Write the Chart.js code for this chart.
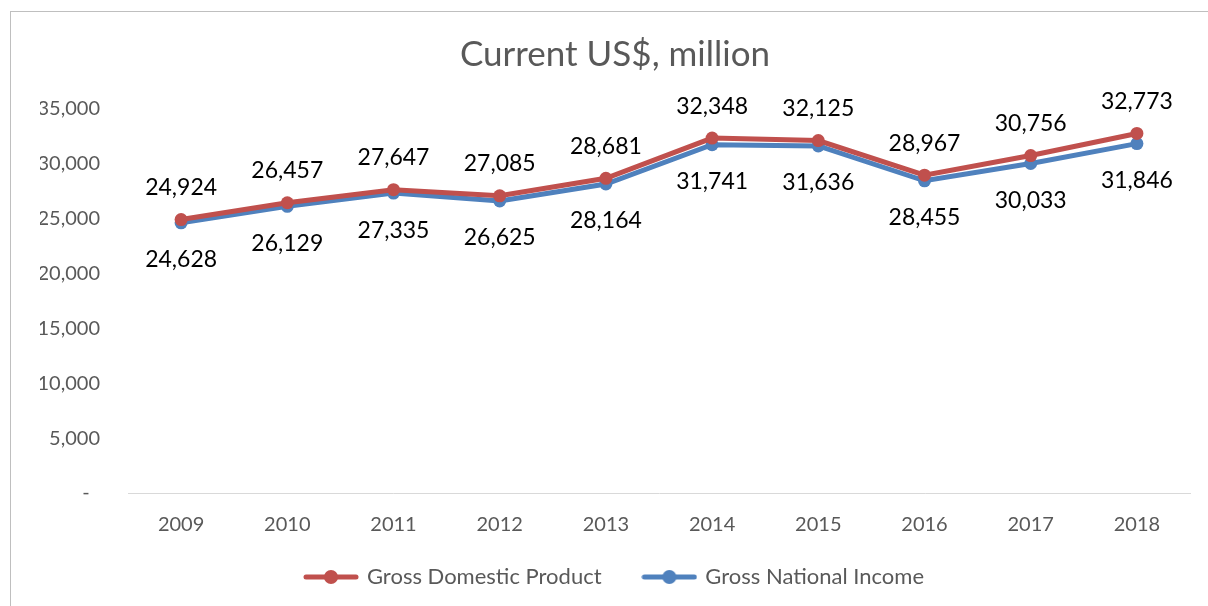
<!DOCTYPE html>
<html>
<head>
<meta charset="utf-8">
<script src="https://cdn.jsdelivr.net/npm/chart.js@4.4.1/dist/chart.umd.min.js"></script>
<style>
  html, body { margin: 0; padding: 0; background: #fff; }
  body { width: 1208px; height: 606px; position: relative; overflow: hidden; }
  #frame { position: absolute; left: 10px; top: 11px; width: 1220px; height: 620px; border: 1px solid #BFBFBF; }
  #wrap { position: absolute; left: 0; top: 0; width: 1208px; height: 606px; }
</style>
</head>
<body>
<div id="frame"></div>
<div id="wrap"><canvas id="chart"></canvas></div>
<script>
const years = ['2009', '2010', '2011', '2012', '2013', '2014', '2015', '2016', '2017', '2018'];
const gdp = [24924, 26457, 27647, 27085, 28681, 32348, 32125, 28967, 30756, 32773];
const gni = [24628, 26129, 27335, 26625, 28164, 31741, 31636, 28455, 30033, 31846];

const red = '#C0504D';
const blue = '#4F81BD';
const gray = '#595959';
const fontFamily = 'Lato, "Open Sans", sans-serif';

// label offsets in px: GDP above the point, GNI below
const labelShift = [-32, 37];

function legendIcon(color) {
    const c = document.createElement('canvas');
    c.width = 56;
    c.height = 16;
    const ctx = c.getContext('2d');
    ctx.strokeStyle = color;
    ctx.lineWidth = 5;
    ctx.lineCap = 'round';
    ctx.beginPath();
    ctx.moveTo(3, 8);
    ctx.lineTo(53, 8);
    ctx.stroke();
    ctx.fillStyle = color;
    ctx.beginPath();
    ctx.arc(28, 8, 7, 0, Math.PI * 2);
    ctx.fill();
    return c;
}

const valueLabels = {
    id: 'valueLabels',
    afterDatasetsDraw(chart) {
        const ctx = chart.ctx;
        ctx.save();
        ctx.font = '23px ' + fontFamily;
        ctx.fillStyle = '#000';
        ctx.textAlign = 'center';
        ctx.textBaseline = 'middle';
        chart.data.datasets.forEach((ds, i) => {
            const meta = chart.getDatasetMeta(i);
            meta.data.forEach((pt, j) => {
                ctx.fillText(ds.data[j].toLocaleString('en-US'), pt.x, pt.y + labelShift[i]);
            });
        });
        ctx.restore();
    }
};

new Chart(document.getElementById('chart'), {
    type: 'line',
    data: {
        labels: years,
        datasets: [{
            label: 'Gross Domestic Product',
            data: gdp,
            borderColor: red,
            backgroundColor: red,
            borderWidth: 5,
            pointRadius: 6.5,
            pointBorderWidth: 0,
            pointBackgroundColor: red,
            tension: 0
        }, {
            label: 'Gross National Income',
            data: gni,
            borderColor: blue,
            backgroundColor: blue,
            borderWidth: 5,
            pointRadius: 6.5,
            pointBorderWidth: 0,
            pointBackgroundColor: blue,
            tension: 0
        }]
    },
    options: {
        responsive: true,
        maintainAspectRatio: false,
        animation: false,
        layout: { padding: { left: 40, right: 18, top: 0, bottom: 8 } },
        plugins: {
            title: {
                display: true,
                text: 'Current US$, million',
                color: gray,
                font: { family: fontFamily, size: 35, weight: 'normal' },
                padding: { top: 34, bottom: 33 }
            },
            legend: {
                position: 'bottom',
                labels: {
                    color: gray,
                    font: { family: fontFamily, size: 22 },
                    usePointStyle: true,
                    pointStyleWidth: 50,
                    padding: 9,
                    generateLabels(chart) {
                        return chart.data.datasets.map((ds, i) => ({
                            text: ds.label + (i === 0 ? '      ' : ''),
                            pointStyle: legendIcon(ds.borderColor),
                            fontColor: gray,
                            lineWidth: 0,
                            strokeStyle: 'transparent',
                            fillStyle: ds.borderColor,
                            datasetIndex: i
                        }));
                    }
                }
            },
            tooltip: { enabled: false }
        },
        scales: {
            x: {
                offset: true,
                grid: { display: false, drawTicks: false, offset: true },
                border: { display: true, color: '#D9D9D9', width: 1 },
                ticks: {
                    color: gray,
                    font: { family: fontFamily, size: 20 },
                    padding: 20
                }
            },
            y: {
                min: 0,
                max: 35000,
                grid: { display: false, drawTicks: false },
                border: { display: false },
                afterFit(scale) { scale.width = 88; },
                ticks: {
                    stepSize: 5000,
                    color: gray,
                    font: { family: fontFamily, size: 20 },
                    padding: 28,
                    callback: v => v === 0 ? '-  ' : v.toLocaleString('en-US')
                }
            }
        }
    },
    plugins: [valueLabels]
});
</script>
</body>
</html>
